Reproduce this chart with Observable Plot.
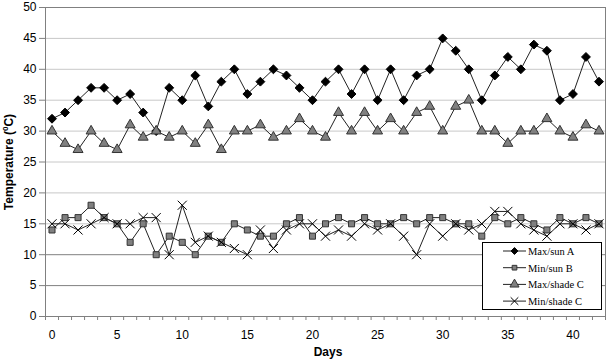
<!DOCTYPE html>
<html><head><meta charset="utf-8">
<script src="https://cdn.jsdelivr.net/npm/d3@7"></script>
<script src="https://cdn.jsdelivr.net/npm/@observablehq/plot@0.6"></script>
<style>body{margin:0;background:#fff} #chart{position:relative;width:607px;height:361px}</style>
</head><body><div id="chart"></div>
<script>
const days = [0,1,2,3,4,5,6,7,8,9,10,11,12,13,14,15,16,17,18,19,20,21,22,23,24,25,26,27,28,29,30,31,32,33,34,35,36,37,38,39,40,41,42];
const maxSunA   = [32,33,35,37,37,35,36,33,30,37,35,39,34,38,40,36,38,40,39,37,35,38,40,36,40,35,40,35,39,40,45,43,40,35,39,42,40,44,43,35,36,42,38];
const minSunB   = [14,16,16,18,16,15,12,15,10,13,12,10,13,12,15,14,13,13,15,16,13,15,16,15,16,15,15,16,15,16,16,15,15,13,16,15,16,15,14,16,15,16,15];
const maxShadeC = [30,28,27,30,28,27,31,29,30,29,30,28,31,27,30,30,31,29,30,32,30,29,33,30,33,30,32,30,33,34,30,34,35,30,30,28,30,30,32,30,29,31,30];
const minShadeC = [15,15,14,15,16,15,15,16,16,10,18,12,13,12,11,10,14,11,14,15,15,13,14,13,15,14,15,13,10,15,13,15,14,15,17,17,15,14,13,15,15,14,15];
const seriesNames = ["Max/sun A","Min/sun B","Max/shade C","Min/shade C"];
const yTicks = [0,5,10,15,20,25,30,35,40,45,50];
const xTickLabels = [0,5,10,15,20,25,30,35,40];

const styles = [
  {symbol:"diamond2", fill:"#000", stroke:"#000", r:4, d3sym:d3.symbolDiamond2, lsize:30},
  {symbol:"square", fill:"#808080", stroke:"#333", r:3.4, d3sym:d3.symbolSquare, lsize:22},
  {symbol:"triangle", fill:"#808080", stroke:"#333", r:3.7, d3sym:d3.symbolTriangle, lsize:36},
  {symbol:"times", fill:"none", stroke:"#000", r:4.2, d3sym:d3.symbolTimes, lsize:40}
];
const allValues = [maxSunA, minSunB, maxShadeC, minShadeC];
const tables = allValues.map((vals, k) => vals.map((v, i) => ({day: days[i], value: v, series: seriesNames[k]})));

const minorTicks = days.map(d => d - 0.5).concat([days[days.length-1] + 0.5]);

const marks = [
  Plot.ruleY(yTicks.filter(t => t > 0 && t < 50 && t !== 5 && t !== 10), {y: d => d, stroke: "#c8c8c8"}),
  Plot.ruleY(yTicks.filter(t => t === 5 || t === 10), {y: d => d, stroke: "#808080"}),
  Plot.frame({stroke: "#808080"}),
  Plot.axisY(yTicks, {tickSize: 6, tickPadding: 3, label: null, stroke: "#808080"}),
  Plot.axisX(minorTicks, {tickSize: 4, tickFormat: () => "", label: null, stroke: "#808080"}),
  Plot.axisX(xTickLabels, {tickSize: 0, tickPadding: 14, label: null})
];
tables.forEach((t, k) => {
  const s = styles[k];
  marks.push(Plot.line(t, {x: "day", y: "value", stroke: "#222", strokeWidth: 1}));
  marks.push(Plot.dot(t, {x: "day", y: "value", symbol: () => s.symbol, r: s.r, fill: s.fill, stroke: s.stroke, strokeWidth: 1}));
});

const svg = Plot.plot({
  width: 607, height: 361,
  marginLeft: 45, marginRight: 2, marginTop: 7, marginBottom: 45,
  x: {domain: [-0.5, 42.5]},
  y: {domain: [0, 50]},
  symbol: {type: "identity"},
  style: {fontFamily: "'Liberation Sans', Arial, sans-serif", fontSize: "12px", color: "#000", background: "#fff"},
  marks
});

const sel = d3.select(svg);
// axis titles
const yl = sel.append("text")
  .attr("transform", "translate(13,162) rotate(-90)")
  .attr("text-anchor", "middle")
  .attr("font-family", "'Liberation Sans', Arial, sans-serif")
  .attr("font-size", 12).attr("font-weight", "bold").attr("fill", "#000");
yl.append("tspan").text("Temperature (");
yl.append("tspan").attr("font-size", 8).attr("dy", -5).text("0");
yl.append("tspan").attr("dy", 5).text("C)");
sel.append("text").attr("x", 328).attr("y", 356).attr("text-anchor", "middle")
  .attr("font-family", "'Liberation Sans', Arial, sans-serif")
  .attr("font-size", 12).attr("font-weight", "bold").attr("fill", "#000").text("Days");

// legend
const lg = sel.append("g").attr("text-anchor", "start");
lg.append("rect").attr("x", 482.5).attr("y", 242.5).attr("width", 119).attr("height", 67)
  .attr("fill", "#fff").attr("stroke", "#000").attr("stroke-width", 1);
seriesNames.forEach((name, k) => {
  const s = styles[k];
  const y = 251 + k * 16.7;
  lg.append("line").attr("x1", 503).attr("x2", 526).attr("y1", y).attr("y2", y).attr("stroke", "#222");
  lg.append("path").attr("d", d3.symbol(s.d3sym, s.lsize)()).attr("transform", `translate(514.5,${y})`)
    .attr("fill", s.fill).attr("stroke", s.stroke);
  lg.append("text").attr("x", 528).attr("y", y + 4).attr("text-anchor", "start")
    .attr("font-family", "'Liberation Serif', 'Times New Roman', serif")
    .attr("font-size", 10.5).attr("fill", "#000").text(name);
});

document.getElementById("chart").appendChild(svg);
</script>
</body></html>
